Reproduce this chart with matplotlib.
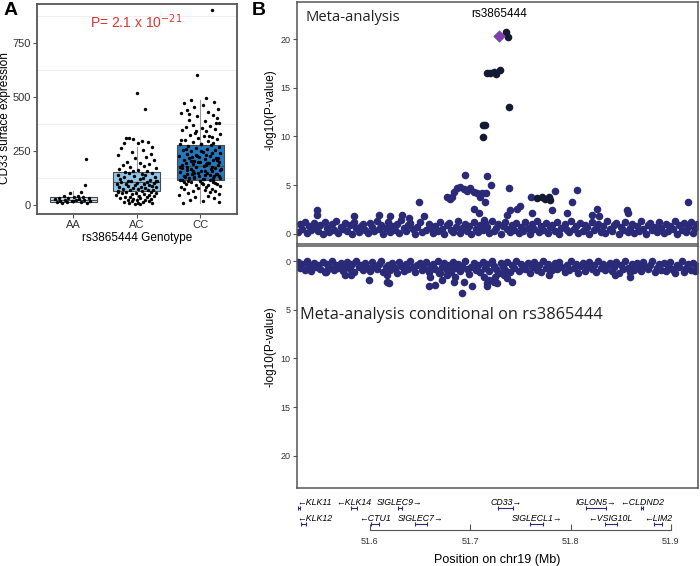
import numpy as np
import matplotlib
matplotlib.use("Agg")
import matplotlib.pyplot as plt

plt.rcParams['font.family'] = ['Liberation Sans', 'DejaVu Sans']

# ---------------- panel A data ----------------
genotypes = ["AA", "AC", "CC"]
box_colors = ["#c9e3f3", "#8fc6e8", "#2479bd"]
box_whislo = [8, 3, 10]
box_q1 = [15, 65, 114]
box_med = [23, 105, 180]
box_q3 = [38, 151, 276]
box_whishi = [66, 270, 486]

aa_values = [214, 90, 62, 55, 42, 40, 38, 35, 33, 31, 30, 28, 27, 25, 24, 22, 20, 19, 18, 16,
             15, 13, 12, 10, 8]
aa_jitter = [0.2, 0.19, 0.12, -0.05, 0.08, -0.15, 0.02, 0.15, -0.22, 0.25, -0.08, 0.1, -0.28, 0.05, -0.12,
             0.18, -0.02, -0.2, 0.27, 0.0, -0.25, 0.12, -0.1, 0.22, -0.18]

ac_values = [520, 445, 312, 308, 303, 298, 292, 288, 285, 270,
             262, 252, 245, 238, 230, 222, 215, 208, 200, 195,
             190, 185, 180, 175, 170, 166, 162, 158, 155, 152,
             149, 146, 143, 140, 137, 134, 131, 128, 125, 122,
             119, 116, 113, 111, 109, 107, 105, 103, 101, 99,
             97, 95, 93, 91, 89, 87, 85, 83, 81, 79,
             77, 75, 73, 71, 69, 67, 65, 63, 61, 59,
             57, 55, 53, 51, 49, 47, 45, 43, 41, 39,
             37, 35, 33, 31, 29, 27, 25, 23, 21, 19,
             17, 15, 13, 11, 9, 7, 5, 3, 60, 110]
ac_jitter = [0.0, 0.13, -0.17, -0.12, -0.06, 0.08, 0.18, -0.2, 0.02, 0.25,
             -0.25, 0.1, -0.08, 0.22, -0.3, 0.15, -0.02, 0.28, -0.15, 0.05,
             0.2, -0.22, 0.12, -0.1, 0.3, -0.28, 0.03, 0.17, -0.05, -0.18,
             0.25, -0.12, 0.08, -0.3, 0.14, -0.04, 0.29, -0.2, 0.1, -0.26,
             0.05, 0.21, -0.14, 0.32, -0.09, 0.16, -0.24, 0.0, 0.27, -0.17,
             0.11, -0.31, 0.19, -0.03, 0.24, -0.13, 0.07, -0.27, 0.3, -0.06,
             0.14, -0.21, 0.02, 0.26, -0.1, 0.18, -0.29, 0.09, -0.16, 0.23,
             -0.01, 0.31, -0.23, 0.12, -0.07, 0.2, -0.32, 0.04, 0.28, -0.11,
             0.16, -0.19, 0.06, -0.26, 0.22, -0.05, 0.13, -0.14, 0.01, 0.19,
             -0.08, 0.1, -0.2, 0.24, 0.03, -0.12, 0.06, -0.02, -0.3, 0.3]

cc_values = [900, 600, 495, 485, 475, 470, 462, 455, 445, 440,
             432, 425, 418, 410, 402, 395, 388, 380, 372, 365,
             360, 355, 350, 345, 340, 335, 330, 325, 320, 315,
             310, 305, 300, 296, 292, 288, 284, 280, 276, 272,
             268, 264, 260, 256, 252, 248, 244, 240, 236, 232,
             228, 225, 222, 219, 216, 213, 210, 207, 204, 201,
             198, 195, 192, 189, 186, 183, 180, 177, 174, 171,
             168, 165, 162, 159, 156, 153, 150, 147, 144, 141,
             138, 135, 132, 129, 126, 123, 120, 117, 114, 111,
             108, 105, 102, 99, 96, 93, 90, 87, 84, 81,
             78, 75, 72, 69, 66, 63, 60, 55, 50, 45,
             40, 35, 30, 25, 20, 15, 10, 185, 175, 165,
             155, 145, 135, 125, 115, 195, 205, 215, 230, 250,
             100, 110, 120, 130, 140, 150, 160, 170, 190, 200,
             210, 220, 240, 260, 280, 300, 320, 340, 380, 420,
             95, 105, 115, 125, 135, 145, 155, 175, 195, 225]
cc_jitter = [0.18, -0.05, 0.1, -0.15, 0.22, -0.25, 0.05, -0.1, 0.28, -0.2,
             0.12, -0.3, 0.2, -0.05, 0.26, -0.18, 0.08, 0.3, -0.12, 0.15,
             -0.22, 0.03, 0.24, -0.28, 0.1, -0.08, 0.31, -0.16, 0.06, 0.19,
             -0.03, 0.27, -0.24, 0.13, -0.11, 0.21, -0.31, 0.01, 0.17, -0.19,
             0.29, -0.07, 0.11, -0.27, 0.23, -0.14, 0.04, 0.32, -0.21, 0.09,
             -0.33, 0.16, -0.02, 0.25, -0.17, 0.07, -0.26, 0.2, -0.09, 0.3,
             0.0, -0.23, 0.14, -0.12, 0.28, -0.29, 0.06, 0.19, -0.06, 0.24,
             -0.15, 0.33, -0.2, 0.02, 0.18, -0.32, 0.11, -0.04, 0.26, -0.13,
             0.08, -0.25, 0.22, -0.1, 0.31, -0.18, 0.05, -0.28, 0.15, -0.01,
             0.21, -0.14, 0.03, 0.27, -0.22, 0.12, -0.07, 0.32, -0.3, 0.1,
             -0.04, 0.19, -0.26, 0.07, 0.24, -0.11, 0.15, -0.19, 0.29, -0.33,
             0.13, -0.08, 0.22, -0.16, 0.04, 0.3, -0.27, 0.09, -0.21, 0.17,
             -0.12, 0.25, -0.02, 0.2, -0.31, 0.11, -0.15, 0.28, -0.06, 0.01,
             0.23, -0.19, 0.06, -0.24, 0.16, -0.09, 0.32, -0.28, 0.1, -0.03,
             0.27, -0.13, 0.18, -0.22, 0.02, -0.3, 0.14, -0.07, 0.25, -0.17,
             0.05, -0.26, 0.2, -0.1, 0.3, -0.2, 0.08, -0.32, 0.12, -0.05]

# ---------------- panel B data (positions in kb on chr19 above 51.0 Mb) ----------------
band_kb = [528, 530, 532, 535, 537, 539, 541, 544, 546, 548, 550, 553, 555, 557, 559, 562, 564, 566, 568, 571,
           573, 575, 577, 580, 582, 584, 586, 589, 591, 593, 595, 598, 600, 602, 604, 607, 609, 611, 613, 616,
           618, 620, 622, 625, 627, 629, 631, 634, 636, 638, 640, 643, 645, 647, 650, 652, 654, 656, 659, 661,
           663, 665, 668, 670, 672, 674, 677, 679, 681, 683, 686, 688, 690, 692, 695, 697, 699, 701, 704, 706,
           708, 710, 713, 715, 717, 719, 722, 724, 726, 728, 731, 733, 735, 737, 740, 742, 744, 746, 749, 751,
           753, 755, 758, 760, 762, 764, 767, 769, 771, 773, 776, 778, 780, 782, 785, 787, 789, 791, 794, 796,
           798, 800, 803, 805, 807, 809, 812, 814, 816, 818, 821, 823, 825, 827, 830, 832, 834, 836, 839, 841,
           843, 845, 848, 850, 852, 854, 857, 859, 861, 863, 866, 868, 870, 872, 875, 877, 879, 881, 884, 886,
           888, 890, 893, 895, 897, 899, 902, 904, 906, 908, 911, 913, 915, 917, 920, 922, 924, 926]
# -log10(P) x 10
band_top = [2, 10, 5, 12, 1, 8, 4, 11, 7, 3, 9, 0, 12, 6, 2, 10, 4, 13, 1, 7,
            5, 11, 3, 9, 0, 12, 6, 2, 8, 10, 4, 1, 11, 7, 3, 13, 5, 9, 0, 6,
            12, 2, 8, 4, 10, 1, 14, 6, 3, 9, 11, 5, 0, 7, 12, 2, 18, 4, 10, 6,
            1, 8, 3, 12, 5, 0, 9, 11, 4, 2, 7, 13, 1, 6, 10, 3, 8, 0, 12, 5,
            2, 9, 4, 11, 7, 1, 13, 3, 6, 10, 0, 8, 12, 5, 2, 9, 4, 11, 1, 7,
            3, 12, 6, 0, 10, 5, 13, 2, 8, 4, 11, 1, 7, 9, 3, 12, 0, 6, 10, 4,
            2, 13, 5, 8, 1, 11, 3, 9, 7, 0, 12, 4, 6, 10, 2, 8, 1, 13, 5, 3,
            9, 11, 0, 7, 4, 12, 2, 6, 10, 1, 8, 3, 13, 5, 0, 9, 11, 4, 7, 2,
            12, 6, 1, 10, 3, 8, 5, 13, 0, 9, 4, 11, 2, 7, 12, 1, 6, 10]
band_cond = [1, 7, 3, 9, 0, 5, 10, 2, 6, 4, 8, 1, 11, 3, 6, 0, 9, 4, 7, 2,
             10, 5, 1, 8, 3, 11, 0, 6, 4, 9, 2, 7, 10, 1, 5, 8, 3, 0, 11, 6,
             4, 9, 2, 7, 12, 1, 5, 10, 3, 8, 0, 6, 11, 4, 2, 9, 7, 1, 10, 5,
             3, 8, 0, 12, 6, 2, 9, 4, 11, 1, 7, 3, 10, 5, 0, 8, 13, 6, 2, 9,
             4, 11, 1, 7, 3, 10, 0, 5, 8, 12, 2, 6, 9, 1, 11, 4, 7, 0, 10, 3,
             5, 8, 2, 12, 6, 1, 9, 4, 11, 0, 7, 3, 10, 5, 2, 8, 1, 6, 11, 4,
             9, 0, 7, 3, 12, 5, 2, 10, 6, 1, 8, 4, 11, 0, 7, 3, 9, 5, 2, 10,
             6, 1, 12, 4, 8, 0, 7, 11, 3, 9, 2, 5, 10, 1, 6, 8, 4, 0, 11, 7,
             3, 9, 2, 10, 5, 1, 8, 12, 4, 6, 0, 11, 7, 3, 9, 2, 10, 5]

top_snp_kb = [547.7, 547.7, 584.1, 609.0, 620.6, 632.2, 638.8, 648.8,
              677.0, 680.3, 682.0, 683.6, 687.0, 690.2, 693.5, 695.2, 696.9, 700.2, 703.5, 704.2,
              706.9, 708.5, 709.5, 711.8, 713.4, 715.1, 716.1, 716.8, 720.8, 738.3,
              736.7, 739.3, 746.7, 750.0, 760.9, 761.6, 781.5, 784.8, 796.4, 801.4,
              806.4, 821.3, 826.3, 827.9, 856.1, 857.7, 917.4]
top_snp_p = [2.45, 1.95, 1.8, 1.95, 1.8, 1.95, 1.6, 3.3,
             3.8, 3.6, 3.8, 4.3, 4.7, 4.85, 4.6, 6.1, 4.45, 4.7, 4.35, 2.6,
             4.2, 2.1, 3.8, 4.2, 1.4, 3.3, 4.25, 5.95, 5.0, 4.75,
             1.95, 2.45, 2.6, 2.9, 3.8, 2.1, 2.45, 4.45, 2.1, 3.3,
             4.5, 1.95, 2.6, 1.8, 2.45, 2.1, 3.3]
top_dark_kb = [712.5, 714.5, 712.8, 716.8, 720.1, 723.4, 726.1, 729.4, 736.0, 737.7, 738.3,
               766.6, 771.5, 774.8, 778.1, 779.8]
top_dark_p = [11.2, 11.2, 9.9, 16.5, 16.5, 16.6, 16.4, 16.8, 20.7, 20.2, 13.05,
              3.65, 3.8, 3.6, 3.8, 3.5]
lead_snp = "rs3865444"
lead_kb = 729.0
lead_p = 20.3

cond_snp_kb = [555.9, 557.6, 575.8, 580.8, 599.0, 617.3, 617.3, 618.9, 658.7, 658.7,
               660.4, 665.4, 668.7, 672.0, 677.0, 680.3, 683.6, 685.3, 691.9, 693.5,
               701.9, 710.1, 713.4, 716.8, 716.8, 718.4, 723.4, 725.1, 726.8, 728.4,
               733.3, 736.7, 741.7, 778.1, 781.5, 844.5, 859.4, 902.5]
cond_snp_p = [1.1, 0.9, 1.43, 1.4, 1.95, 2.1, 1.4, 2.2, 2.6, 1.1,
              1.6, 2.45, 1.25, 1.95, 1.4, 0.75, 2.1, 1.6, 3.3, 2.1,
              2.6, 1.1, 1.6, 2.6, 2.3, 1.95, 2.1, 1.6, 2.3, 1.25,
              1.4, 1.75, 2.1, 1.4, 0.9, 1.4, 1.6, 0.9]

gene_names = ["KLK11", "KLK14", "SIGLEC9", "CD33", "IGLON5", "CLDND2",
              "KLK12", "CTU1", "SIGLEC7", "SIGLECL1", "VSIG10L", "LIM2"]
gene_start = [51.528, 51.581, 51.628, 51.728, 51.815, 51.870, 51.531, 51.601, 51.645, 51.760, 51.834, 51.883]
gene_end = [51.530, 51.587, 51.632, 51.743, 51.835, 51.872, 51.536, 51.609, 51.657, 51.773, 51.846, 51.891]
gene_strand = ["-", "-", "+", "+", "+", "-", "-", "-", "+", "+", "-", "-"]
gene_row = [0, 0, 0, 0, 0, 0, 1, 1, 1, 1, 1, 1]

# ---------------- styles ----------------
navy = "#2b2a78"
dark = "#141a33"
purple = "#7d3fa8"
frame = "#555555"
tick_text = "#333333"
xlim_mb = (51.5275, 51.927)
dot = 30

fig = plt.figure(figsize=(7.0, 5.66), dpi=100)

# ---------------- panel A ----------------
ax_a = fig.add_axes([37 / 700, 1 - 214 / 566, 200 / 700, 210 / 566])
for y in [125, 375, 625, 875]:
    ax_a.axhline(y, color="#ededed", lw=0.6, zorder=0)
stats = []
for i, g in enumerate(genotypes):
    stats.append(dict(label=g, whislo=box_whislo[i], q1=box_q1[i], med=box_med[i],
                      q3=box_q3[i], whishi=box_whishi[i]))
bp = ax_a.bxp(stats, positions=[1, 2, 3], widths=0.74, patch_artist=True,
              showfliers=False, showcaps=False,
              boxprops=dict(edgecolor="#4a4a4a", linewidth=0.8),
              medianprops=dict(color="#4a4a4a", linewidth=0.8),
              whiskerprops=dict(color="#9a9a9a", linewidth=0.8))
for patch, c in zip(bp["boxes"], box_colors):
    patch.set_facecolor(c)
for i, (vals, jit) in enumerate([(aa_values, aa_jitter), (ac_values, ac_jitter), (cc_values, cc_jitter)]):
    ax_a.scatter(i + 1 + np.array(jit), vals, s=6, color="black", linewidths=0, zorder=3)
ax_a.set_xlim(0.433, 3.58)
ax_a.set_ylim(-42, 930)
ax_a.set_yticks([0, 250, 500, 750])
ax_a.set_xticks([1, 2, 3])
ax_a.set_xticklabels(genotypes)
ax_a.tick_params(labelsize=8, colors=frame, labelcolor=tick_text, length=3, width=0.8, pad=1.5)
for sp in ax_a.spines.values():
    sp.set_color(frame)
    sp.set_linewidth(1.3)
ax_a.set_ylabel("CD33 surface expression", fontsize=8.5)
ax_a.yaxis.set_label_coords(-0.13, 0.457)
ax_a.set_xlabel("rs3865444 Genotype", fontsize=8.5, labelpad=1)
ax_a.text(2.0, 850, r"P= 2.1 x 10$^{-21}$", color="#e3322e", fontsize=10, ha="center", va="center")

fig.text(4 / 700, 1 - 2 / 566, "A", fontsize=14, fontweight="bold", va="top")
fig.text(252 / 700, 1 - 2 / 566, "B", fontsize=14, fontweight="bold", va="top")

# ---------------- panel B top ----------------
band_x = 51.0 + np.array(band_kb) / 1000


def style_locus(ax):
    ax.set_xlim(*xlim_mb)
    ax.set_xticks([])
    ax.set_yticks([0, 5, 10, 15, 20])
    ax.tick_params(axis="y", labelsize=6.5, colors=frame, labelcolor=tick_text, length=3, width=0.8, pad=1.5)
    for sp in ax.spines.values():
        sp.set_color(frame)
        sp.set_linewidth(1.1)


ax_t = fig.add_axes([297 / 700, 1 - 244 / 566, 401 / 700, 242 / 566])
ax_t.scatter(band_x, np.array(band_top) / 10, s=dot, color=navy, linewidths=0, zorder=2)
ax_t.scatter(51.0 + np.array(top_snp_kb) / 1000, top_snp_p, s=dot, color=navy, linewidths=0, zorder=3)
ax_t.scatter(51.0 + np.array(top_dark_kb) / 1000, top_dark_p, s=dot, color=dark, linewidths=0, zorder=3)
ax_t.scatter([51.0 + lead_kb / 1000], [lead_p], s=40, marker="D", color=purple, linewidths=0, zorder=4)
ax_t.text(51.0 + lead_kb / 1000, 22.6, lead_snp, fontsize=8.5, ha="center", va="center")
ax_t.text(0.02, 0.934, "Meta-analysis", transform=ax_t.transAxes, fontsize=10.6,
          family=["Open Sans", "DejaVu Sans"], va="center", color="#222222")
ax_t.set_ylim(-1.03, 23.8)
style_locus(ax_t)
ax_t.set_ylabel("-log10(P-value)", fontsize=8.5)
ax_t.yaxis.set_label_coords(-0.05, 0.554)

# ---------------- panel B bottom ----------------
ax_b = fig.add_axes([297 / 700, 1 - 488 / 566, 401 / 700, 242 / 566])
ax_b.scatter(band_x, np.array(band_cond) / 10, s=dot, color=navy, linewidths=0, zorder=2)
ax_b.scatter(51.0 + np.array(cond_snp_kb) / 1000, cond_snp_p, s=dot, color=navy, linewidths=0, zorder=3)
ax_b.text(0.008, 0.715, "Meta-analysis conditional on rs3865444", transform=ax_b.transAxes, fontsize=11.8,
          family=["Open Sans", "DejaVu Sans"], va="center", color="#222222")
ax_b.set_ylim(23.3, -1.55)
style_locus(ax_b)
ax_b.set_ylabel("-log10(P-value)", fontsize=8.5)
ax_b.yaxis.set_label_coords(-0.05, 0.583)

# ---------------- gene track ----------------
ax_g = fig.add_axes([297 / 700, 1 - 530 / 566, 401 / 700, 36 / 566])
ax_g.set_xlim(*xlim_mb)
ax_g.set_ylim(0, 4)
row_label_y = [2.8, 1.02]
row_gene_y = [2.42, 0.64]
for name, s, e, strand, row in zip(gene_names, gene_start, gene_end, gene_strand, gene_row):
    gy = row_gene_y[row]
    ax_g.plot([s, e], [gy, gy], color=navy, lw=0.8, solid_capstyle="butt")
    ax_g.plot([s, e], [gy, gy], color=navy, marker="|", ms=3, lw=0, mew=0.8)
    label = "\u2190" + name if strand == "-" else name + "\u2192"
    mid = (s + e) / 2
    if mid < 51.55:
        ax_g.text(xlim_mb[0], row_label_y[row], label, fontsize=6.3, style="italic", ha="left", va="baseline")
    else:
        ax_g.text(mid, row_label_y[row], label, fontsize=6.3, style="italic", ha="center", va="baseline")
for side in ["left", "right", "top"]:
    ax_g.spines[side].set_visible(False)
ax_g.spines["bottom"].set_bounds(51.6, 51.9)
ax_g.spines["bottom"].set_color(frame)
ax_g.spines["bottom"].set_linewidth(0.8)
ax_g.set_yticks([])
ax_g.set_xticks([51.6, 51.7, 51.8, 51.9])
ax_g.set_xticklabels(["51.6", "51.7", "51.8", "51.9"])
ax_g.tick_params(axis="x", direction="in", length=4, width=0.8, colors=frame, labelcolor=tick_text,
                 labelsize=6.5, pad=5)
ax_g.set_xlabel("Position on chr19 (Mb)", fontsize=9, labelpad=6)

fig.savefig("out.png", dpi=100)
